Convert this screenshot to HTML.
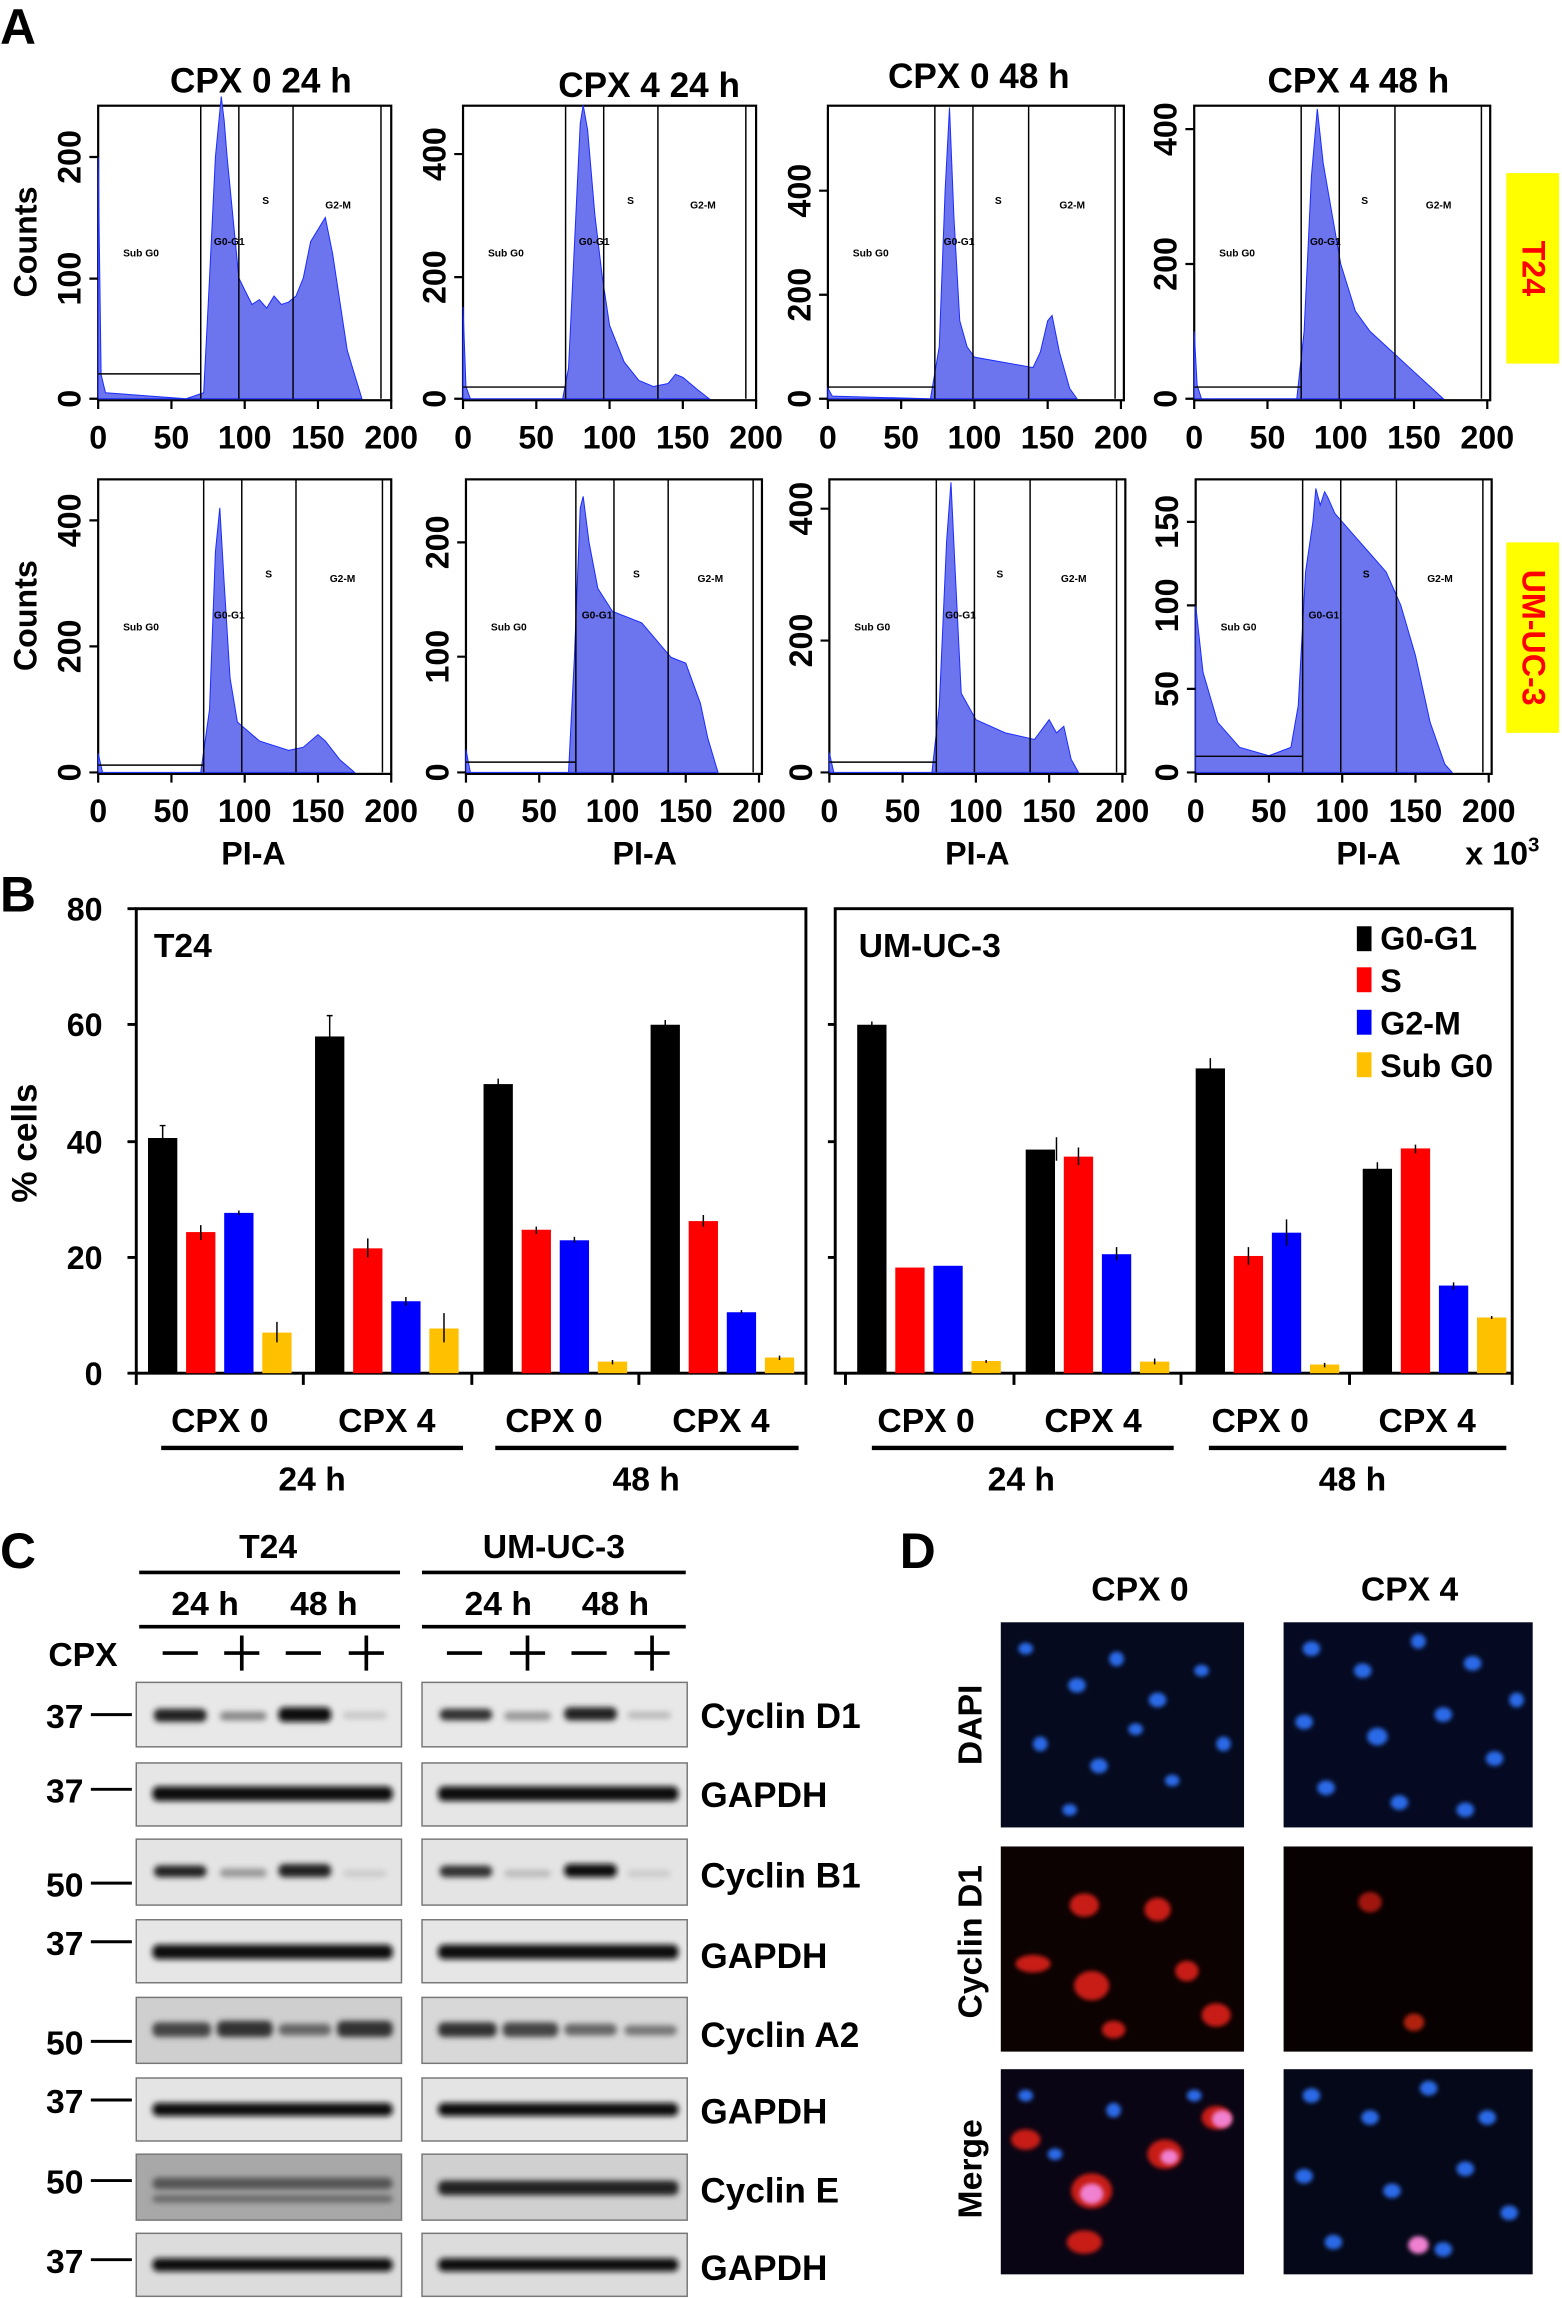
<!DOCTYPE html>
<html><head><meta charset="utf-8"><style>
html,body{margin:0;padding:0;background:#fff}
svg{display:block}
text{font-family:"Liberation Sans",Arial,sans-serif;font-weight:bold;fill:#000}
</style></head><body>
<svg width="1562" height="2298" viewBox="0 0 1066 1568" xmlns="http://www.w3.org/2000/svg">
<defs>
<filter id="bl" x="-20%" y="-50%" width="140%" height="200%"><feGaussianBlur stdDeviation="2"/></filter>
<filter id="bl2" x="-50%" y="-50%" width="200%" height="200%"><feGaussianBlur stdDeviation="1.5"/></filter>
<g id="hx">
<path d="M0 0v6M50 0v6M100 0v6M150 0v6M200 0v6" stroke="#000" stroke-width="1.5"/>
</g>
</defs>
<!-- Panel letters -->
<text x="0" y="30" font-size="34">A</text>
<text x="0" y="622" font-size="34">B</text>
<text x="0" y="1070" font-size="34">C</text>
<text x="614" y="1070" font-size="34">D</text>

<!-- Titles -->
<g font-size="24" text-anchor="middle">
<text x="178" y="63">CPX 0 24 h</text>
<text x="443" y="66">CPX 4 24 h</text>
<text x="668" y="60">CPX 0 48 h</text>
<text x="927" y="63">CPX 4 48 h</text>
</g>

<!-- Histogram plot generator outputs (static) -->
<!-- Row 1 -->
<g id="r1">
<!-- plot 1 -->
<g transform="translate(67,272)">
<rect x="0" y="-200" width="200" height="201" fill="none" stroke="#000" stroke-width="1.5"/>
<path transform="scale(1,-0.825)" vector-effect="non-scaling-stroke" d="M0 0L0 200 2 20 5 5 60 0 72 5 76 100 80 200 84 250 86 230 88 200 92 150 96 100 100 90 105 78 110 82 115 75 120 85 125 78 130 80 135 85 140 100 145 130 150 140 155 150 160 120 165 80 170 40 175 20 180 0Z" fill="#6c74ee" stroke="#1a2cff" stroke-width="1"/>
<path d="M70 -200V0M96 -200V0M133 -200V0M193 -200V0M0 -17H70" stroke="#000" stroke-width="1" fill="none"/>
<use href="#hx" y="1"/>
<g font-size="7" font-weight="normal"><text x="17" y="-97" font-weight="normal">Sub G0</text><text x="79" y="-105" font-weight="normal">G0-G1</text><text x="112" y="-133" font-weight="normal">S</text><text x="155" y="-130" font-weight="normal">G2-M</text></g>
</g>
<!-- plot 2 -->
<g transform="translate(316,272)">
<rect x="0" y="-200" width="200" height="201" fill="none" stroke="#000" stroke-width="1.5"/>
<path transform="scale(1,-0.4175)" d="M0 0L0 150 2 20 5 0 68 0 72 50 76 250 80 450 82 480 85 440 90 300 95 200 100 120 110 60 120 30 130 20 140 25 145 40 150 35 160 15 168 0Z" fill="#6c74ee" stroke="#1a2cff" stroke-width="1" vector-effect="non-scaling-stroke"/>
<path d="M70 -200V0M96 -200V0M133 -200V0M193 -200V0M0 -8H70" stroke="#000" stroke-width="1" fill="none"/>
<use href="#hx" y="1"/>
<g font-size="7"><text x="17" y="-97" font-weight="normal">Sub G0</text><text x="79" y="-105" font-weight="normal">G0-G1</text><text x="112" y="-133" font-weight="normal">S</text><text x="155" y="-130" font-weight="normal">G2-M</text></g>
</g>
<!-- plot 3 -->
<g transform="translate(565,272)">
<rect x="0" y="-200" width="202" height="201" fill="none" stroke="#000" stroke-width="1.5"/>
<path transform="scale(1,-0.355)" d="M0 0L0 20 3 5 70 0 76 100 80 400 83 560 86 350 90 150 95 100 100 80 120 70 140 60 145 90 150 150 153 160 158 90 165 20 170 0Z" fill="#6c74ee" stroke="#1a2cff" stroke-width="1" vector-effect="non-scaling-stroke"/>
<path d="M73 -200V0M99 -200V0M137 -200V0M196 -200V0M0 -8H73" stroke="#000" stroke-width="1" fill="none"/>
<use href="#hx" y="1"/>
<g font-size="7"><text x="17" y="-97" font-weight="normal">Sub G0</text><text x="79" y="-105" font-weight="normal">G0-G1</text><text x="114" y="-133" font-weight="normal">S</text><text x="158" y="-130" font-weight="normal">G2-M</text></g>
</g>
<!-- plot 4 -->
<g transform="translate(815,272)">
<rect x="0" y="-200" width="202" height="201" fill="none" stroke="#000" stroke-width="1.5"/>
<path transform="scale(1,-0.46)" d="M0 0L0 100 2 20 5 0 70 0 75 100 80 330 84 430 88 350 92 300 100 200 110 130 120 100 130 80 140 60 150 40 160 20 170 0Z" fill="#6c74ee" stroke="#1a2cff" stroke-width="1" vector-effect="non-scaling-stroke"/>
<path d="M73 -200V0M99 -200V0M137 -200V0M196 -200V0M0 -8H73" stroke="#000" stroke-width="1" fill="none"/>
<use href="#hx" y="1"/>
<g font-size="7"><text x="17" y="-97" font-weight="normal">Sub G0</text><text x="79" y="-105" font-weight="normal">G0-G1</text><text x="114" y="-133" font-weight="normal">S</text><text x="158" y="-130" font-weight="normal">G2-M</text></g>
</g>
</g>

<!-- Row 2 -->
<g transform="translate(67,527)">
<rect x="0" y="-200" width="200" height="201" fill="none" stroke="#000" stroke-width="1.5"/>
<path transform="scale(1,-0.43)" d="M0 0L0 30 3 0 70 0 76 100 80 350 83 420 86 300 90 150 95 80 110 50 130 35 140 40 150 60 155 50 165 20 175 0Z" fill="#6c74ee" stroke="#1a2cff" stroke-width="1" vector-effect="non-scaling-stroke"/>
<path d="M72 -200V0M98 -200V0M135 -200V0M194 -200V0M0 -5H72" stroke="#000" stroke-width="1" fill="none"/>
<use href="#hx" y="1"/>
<g font-size="7"><text x="17" y="-97" font-weight="normal">Sub G0</text><text x="79" y="-105" font-weight="normal">G0-G1</text><text x="114" y="-133" font-weight="normal">S</text><text x="158" y="-130" font-weight="normal">G2-M</text></g>
</g>
<g transform="translate(318,527)">
<rect x="0" y="-200" width="202" height="201" fill="none" stroke="#000" stroke-width="1.5"/>
<path transform="scale(1,-0.785)" d="M0 0L0 20 3 0 70 0 74 100 78 230 80 240 84 200 90 160 100 140 110 135 120 130 130 115 140 100 150 95 160 60 165 30 172 0Z" fill="#6c74ee" stroke="#1a2cff" stroke-width="1" vector-effect="non-scaling-stroke"/>
<path d="M75 -200V0M101 -200V0M138 -200V0M196 -200V0M0 -7H75" stroke="#000" stroke-width="1" fill="none"/>
<use href="#hx" y="1"/>
<g font-size="7"><text x="17" y="-97" font-weight="normal">Sub G0</text><text x="79" y="-105" font-weight="normal">G0-G1</text><text x="114" y="-133" font-weight="normal">S</text><text x="158" y="-130" font-weight="normal">G2-M</text></g>
</g>
<g transform="translate(566,527)">
<rect x="0" y="-200" width="202" height="201" fill="none" stroke="#000" stroke-width="1.5"/>
<path transform="scale(1,-0.45)" d="M0 0L0 30 3 0 70 0 75 100 80 350 83 440 86 300 90 120 100 80 120 60 140 50 150 80 155 60 160 70 165 20 170 0Z" fill="#6c74ee" stroke="#1a2cff" stroke-width="1" vector-effect="non-scaling-stroke"/>
<path d="M73 -200V0M99 -200V0M137 -200V0M196 -200V0M0 -7H73" stroke="#000" stroke-width="1" fill="none"/>
<use href="#hx" y="1"/>
<g font-size="7"><text x="17" y="-97" font-weight="normal">Sub G0</text><text x="79" y="-105" font-weight="normal">G0-G1</text><text x="114" y="-133" font-weight="normal">S</text><text x="158" y="-130" font-weight="normal">G2-M</text></g>
</g>
<g transform="translate(816,527)">
<rect x="0" y="-200" width="202" height="201" fill="none" stroke="#000" stroke-width="1.5"/>
<path transform="scale(1,-1.14)" d="M0 0L0 100 5 60 15 30 30 15 50 10 65 15 70 40 75 120 80 150 82 170 85 160 88 168 90 165 95 155 100 150 110 140 120 130 130 120 140 100 150 70 160 30 170 5 175 0Z" fill="#6c74ee" stroke="#1a2cff" stroke-width="1" vector-effect="non-scaling-stroke"/>
<path d="M73 -200V0M99 -200V0M137 -200V0M196 -200V0M0 -11H73" stroke="#000" stroke-width="1" fill="none"/>
<use href="#hx" y="1"/>
<g font-size="7"><text x="17" y="-97" font-weight="normal">Sub G0</text><text x="77" y="-105" font-weight="normal">G0-G1</text><text x="114" y="-133" font-weight="normal">S</text><text x="158" y="-130" font-weight="normal">G2-M</text></g>
</g>

<!-- y ticks for histograms -->
<g stroke="#000" stroke-width="1.5">
<path d="M61 272H67M61 190H67M61 107H67M310 272H316M310 189H316M310 105H316M559 272H565M559 201H565M559 130H565M809 272H815M809 180H815M809 88H815"/>
<path d="M61 527H67M61 441H67M61 355H67M312 527H318M312 448H318M312 370H318M560 527H566M560 437H566M560 347H566M810 527H816M810 470H816M810 413H816M810 356H816"/>
</g>
<!-- y tick labels (rotated) -->
<g font-size="22" text-anchor="middle">
<text transform="translate(55,272) rotate(-90)">0</text>
<text transform="translate(55,190) rotate(-90)">100</text>
<text transform="translate(55,107) rotate(-90)">200</text>
<text transform="translate(304,272) rotate(-90)">0</text>
<text transform="translate(304,189) rotate(-90)">200</text>
<text transform="translate(304,105) rotate(-90)">400</text>
<text transform="translate(553,272) rotate(-90)">0</text>
<text transform="translate(553,201) rotate(-90)">200</text>
<text transform="translate(553,130) rotate(-90)">400</text>
<text transform="translate(803,272) rotate(-90)">0</text>
<text transform="translate(803,180) rotate(-90)">200</text>
<text transform="translate(803,88) rotate(-90)">400</text>
<text transform="translate(55,527) rotate(-90)">0</text>
<text transform="translate(55,441) rotate(-90)">200</text>
<text transform="translate(55,355) rotate(-90)">400</text>
<text transform="translate(306,527) rotate(-90)">0</text>
<text transform="translate(306,448) rotate(-90)">100</text>
<text transform="translate(306,370) rotate(-90)">200</text>
<text transform="translate(554,527) rotate(-90)">0</text>
<text transform="translate(554,437) rotate(-90)">200</text>
<text transform="translate(554,347) rotate(-90)">400</text>
<text transform="translate(804,527) rotate(-90)">0</text>
<text transform="translate(804,470) rotate(-90)">50</text>
<text transform="translate(804,413) rotate(-90)">100</text>
<text transform="translate(804,356) rotate(-90)">150</text>
<text transform="translate(25,165) rotate(-90)">Counts</text>
<text transform="translate(25,420) rotate(-90)">Counts</text>
</g>
<!-- x tick labels -->
<g font-size="22" text-anchor="middle">
<g transform="translate(67,306)"><text x="0">0</text><text x="50">50</text><text x="100">100</text><text x="150">150</text><text x="200">200</text></g>
<g transform="translate(316,306)"><text x="0">0</text><text x="50">50</text><text x="100">100</text><text x="150">150</text><text x="200">200</text></g>
<g transform="translate(565,306)"><text x="0">0</text><text x="50">50</text><text x="100">100</text><text x="150">150</text><text x="200">200</text></g>
<g transform="translate(815,306)"><text x="0">0</text><text x="50">50</text><text x="100">100</text><text x="150">150</text><text x="200">200</text></g>
<g transform="translate(67,561)"><text x="0">0</text><text x="50">50</text><text x="100">100</text><text x="150">150</text><text x="200">200</text></g>
<g transform="translate(318,561)"><text x="0">0</text><text x="50">50</text><text x="100">100</text><text x="150">150</text><text x="200">200</text></g>
<g transform="translate(566,561)"><text x="0">0</text><text x="50">50</text><text x="100">100</text><text x="150">150</text><text x="200">200</text></g>
<g transform="translate(816,561)"><text x="0">0</text><text x="50">50</text><text x="100">100</text><text x="150">150</text><text x="200">200</text></g>
<text x="173" y="590">PI-A</text><text x="440" y="590">PI-A</text><text x="667" y="590">PI-A</text><text x="934" y="590">PI-A</text>
</g>
<text x="1000" y="590" font-size="22">x 10<tspan font-size="14" dy="-9">3</tspan></text>

<!-- Yellow labels -->
<rect x="1028" y="118" width="36" height="130" fill="#ffff00"/>
<text transform="translate(1039,183) rotate(90)" font-size="22" text-anchor="middle" style="fill:#ff0000">T24</text>
<rect x="1028" y="370" width="36" height="130" fill="#ffff00"/>
<text transform="translate(1039,435) rotate(90)" font-size="22" text-anchor="middle" style="fill:#ff0000">UM-UC-3</text>

<!-- Panel B -->
<g stroke="#000" fill="none">
<rect x="93" y="620" width="457" height="317" stroke-width="2"/>
<rect x="570" y="620" width="462" height="317" stroke-width="2"/>
<path d="M87 620H93M87 699H93M87 779H93M87 858H93M87 937H93M565 699H570M565 779H570M565 858H570" stroke-width="2"/>
<path d="M93 937v8M207 937v8M322 937v8M436 937v8M550 937v8M577 937v8M692 937v8M806 937v8M921 937v8M1032 937v8" stroke-width="2"/>
</g>
<g font-size="22" text-anchor="end">
<text x="70" y="628">80</text><text x="70" y="707">60</text><text x="70" y="787">40</text><text x="70" y="866">20</text><text x="70" y="945">0</text>
</g>
<text transform="translate(25,780) rotate(-90)" font-size="24" text-anchor="middle">% cells</text>
<text x="105" y="653" font-size="23">T24</text>
<text x="586" y="653" font-size="23">UM-UC-3</text>
<!-- bars: y = 937 - v*3.9625 -->
<g>
<!-- T24 group1 -->
<rect x="101" y="776.5" width="20" height="160.5" fill="#000"/>
<rect x="127" y="840.7" width="20" height="96.3" fill="#ff0000"/>
<rect x="153" y="827.6" width="20" height="109.4" fill="#0000ff"/>
<rect x="179" y="909.3" width="20" height="27.7" fill="#ffc000"/>
<!-- group2 -->
<rect x="215" y="707.2" width="20" height="229.8" fill="#000"/>
<rect x="241" y="851.8" width="20" height="85.2" fill="#ff0000"/>
<rect x="267" y="887.9" width="20" height="49.1" fill="#0000ff"/>
<rect x="293" y="906.5" width="20" height="30.5" fill="#ffc000"/>
<!-- group3 -->
<rect x="330" y="739.7" width="20" height="197.3" fill="#000"/>
<rect x="356" y="839.1" width="20" height="97.9" fill="#ff0000"/>
<rect x="382" y="846.3" width="20" height="90.7" fill="#0000ff"/>
<rect x="408" y="929.1" width="20" height="7.9" fill="#ffc000"/>
<!-- group4 -->
<rect x="444" y="699.2" width="20" height="237.8" fill="#000"/>
<rect x="470" y="833.2" width="20" height="103.8" fill="#ff0000"/>
<rect x="496" y="895.4" width="20" height="41.6" fill="#0000ff"/>
<rect x="522" y="926.3" width="20" height="10.7" fill="#ffc000"/>
<!-- UM group1 -->
<rect x="585" y="699.2" width="20" height="237.8" fill="#000"/>
<rect x="611" y="864.9" width="20" height="72.1" fill="#ff0000"/>
<rect x="637" y="863.7" width="20" height="73.3" fill="#0000ff"/>
<rect x="663" y="928.7" width="20" height="8.3" fill="#ffc000"/>
<!-- UM group2 -->
<rect x="700" y="784.4" width="20" height="152.6" fill="#000"/>
<rect x="726" y="789.2" width="20" height="147.8" fill="#ff0000"/>
<rect x="752" y="855.8" width="20" height="81.2" fill="#0000ff"/>
<rect x="778" y="929.1" width="20" height="7.9" fill="#ffc000"/>
<!-- UM group3 -->
<rect x="816" y="729" width="20" height="208" fill="#000"/>
<rect x="842" y="857" width="20" height="80" fill="#ff0000"/>
<rect x="868" y="841.1" width="20" height="95.9" fill="#0000ff"/>
<rect x="894" y="931.1" width="20" height="5.9" fill="#ffc000"/>
<!-- UM group4 -->
<rect x="930" y="797.5" width="20" height="139.5" fill="#000"/>
<rect x="956" y="783.6" width="20" height="153.4" fill="#ff0000"/>
<rect x="982" y="877.2" width="20" height="59.8" fill="#0000ff"/>
<rect x="1008" y="899" width="20" height="38" fill="#ffc000"/>
</g>
<!-- error bars -->
<g stroke="#000" stroke-width="1">
<path d="M111 768v16M109 768h4M137 836v10M153 0"/>
<path d="M225 693v28M223 693h4M251 845v13M277 885v6M303 896v20M340 736v6M366 837v5M392 844v4M454 696v6M480 829v8M506 894v2"/>
<path d="M595 697v3M721 776v16M736 783v12M762 851v9M826 722v14M852 851v12M878 832v18M940 793v9M966 781v6M992 875v5M1018 898v2"/>
<path d="M189 902v14M137 836v10M163 826v3M418 928v3M532 925v3M673 928v2M788 927v4M904 930v3"/>
</g>
<!-- legend -->
<rect x="926" y="632" width="10" height="17" fill="#000"/>
<rect x="926" y="660" width="10" height="17" fill="#ff0000"/>
<rect x="926" y="689" width="10" height="17" fill="#0000ff"/>
<rect x="926" y="718" width="10" height="17" fill="#ffc000"/>
<g font-size="22"><text x="942" y="648">G0-G1</text><text x="942" y="677">S</text><text x="942" y="706">G2-M</text><text x="942" y="735">Sub G0</text></g>
<!-- B x labels -->
<g font-size="23" text-anchor="middle">
<text x="150" y="977">CPX 0</text><text x="264" y="977">CPX 4</text><text x="378" y="977">CPX 0</text><text x="492" y="977">CPX 4</text>
<text x="632" y="977">CPX 0</text><text x="746" y="977">CPX 4</text><text x="860" y="977">CPX 0</text><text x="974" y="977">CPX 4</text>
<text x="213" y="1017">24 h</text><text x="441" y="1017">48 h</text><text x="697" y="1017">24 h</text><text x="923" y="1017">48 h</text>
</g>
<g stroke="#000" stroke-width="3"><path d="M110 988H316M338 988H545M595 988H801M825 988H1028"/></g>

<!-- Panel C header -->
<g font-size="23" text-anchor="middle">
<text x="183" y="1063">T24</text><text x="378" y="1063">UM-UC-3</text>
<text x="140" y="1102">24 h</text><text x="221" y="1102">48 h</text><text x="340" y="1102">24 h</text><text x="420" y="1102">48 h</text>
</g>
<text x="33" y="1137" font-size="23">CPX</text>
<g stroke="#000" stroke-width="2.5">
<path d="M95 1073H273M288 1073H468M95 1110H273M288 1110H468"/>
<path d="M111 1128h24M195 1128h24M305 1128h24M390 1128h24"/>
<path d="M153 1128h24M165 1116v24M238 1128h24M250 1116v24M348 1128h24M360 1116v24M433 1128h24M445 1116v24"/>
</g>
<!-- blots -->
<g>
<g id="blots">
<rect x="93" y="1148" width="181" height="44" fill="#e8e8e8" stroke="#777"/>
<rect x="288" y="1148" width="181" height="44" fill="#e8e8e8" stroke="#777"/>
<rect x="93" y="1203" width="181" height="43" fill="#e6e6e6" stroke="#777"/>
<rect x="288" y="1203" width="181" height="43" fill="#e6e6e6" stroke="#777"/>
<rect x="93" y="1255" width="181" height="45" fill="#e4e4e4" stroke="#777"/>
<rect x="288" y="1255" width="181" height="45" fill="#e4e4e4" stroke="#777"/>
<rect x="93" y="1310" width="181" height="43" fill="#e6e6e6" stroke="#777"/>
<rect x="288" y="1310" width="181" height="43" fill="#e6e6e6" stroke="#777"/>
<rect x="93" y="1363" width="181" height="45" fill="#cfcfcf" stroke="#777"/>
<rect x="288" y="1363" width="181" height="45" fill="#d8d8d8" stroke="#777"/>
<rect x="93" y="1418" width="181" height="43" fill="#e4e4e4" stroke="#777"/>
<rect x="288" y="1418" width="181" height="43" fill="#e4e4e4" stroke="#777"/>
<rect x="93" y="1470" width="181" height="45" fill="#a8a8a8" stroke="#777"/>
<rect x="288" y="1470" width="181" height="45" fill="#d0d0d0" stroke="#777"/>
<rect x="93" y="1524" width="181" height="43" fill="#dcdcdc" stroke="#777"/>
<rect x="288" y="1524" width="181" height="43" fill="#dcdcdc" stroke="#777"/>
</g>
<g filter="url(#bl)">
<!-- Cyclin D1 -->
<rect x="105" y="1166" width="36" height="9" rx="4" fill="#222"/><rect x="150" y="1168" width="32" height="6" rx="3" fill="#888"/><rect x="190" y="1165" width="36" height="10" rx="4" fill="#111"/><rect x="234" y="1168" width="30" height="5" rx="3" fill="#c8c8c8"/>
<rect x="300" y="1166" width="36" height="8" rx="4" fill="#333"/><rect x="344" y="1168" width="32" height="6" rx="3" fill="#999"/><rect x="385" y="1165" width="36" height="9" rx="4" fill="#222"/><rect x="428" y="1168" width="30" height="5" rx="3" fill="#bbb"/>
<!-- GAPDH -->
<rect x="104" y="1219" width="164" height="10" rx="4" fill="#111"/><rect x="299" y="1219" width="164" height="10" rx="4" fill="#111"/>
<!-- Cyclin B1 -->
<rect x="105" y="1273" width="36" height="8" rx="4" fill="#222"/><rect x="150" y="1275" width="32" height="6" rx="3" fill="#999"/><rect x="190" y="1272" width="36" height="9" rx="4" fill="#222"/><rect x="234" y="1276" width="30" height="5" rx="3" fill="#ccc"/>
<rect x="300" y="1273" width="36" height="8" rx="4" fill="#333"/><rect x="344" y="1276" width="32" height="5" rx="3" fill="#bbb"/><rect x="385" y="1272" width="36" height="9" rx="4" fill="#111"/><rect x="428" y="1276" width="30" height="5" rx="3" fill="#ccc"/>
<!-- GAPDH -->
<rect x="104" y="1327" width="164" height="10" rx="4" fill="#111"/><rect x="299" y="1327" width="164" height="10" rx="4" fill="#111"/>
<!-- Cyclin A2 -->
<rect x="104" y="1380" width="40" height="10" rx="4" fill="#444"/><rect x="148" y="1379" width="38" height="11" rx="4" fill="#333"/><rect x="190" y="1381" width="36" height="8" rx="4" fill="#666"/><rect x="230" y="1379" width="38" height="11" rx="4" fill="#333"/>
<rect x="299" y="1380" width="40" height="10" rx="4" fill="#333"/><rect x="343" y="1380" width="38" height="10" rx="4" fill="#444"/><rect x="385" y="1381" width="36" height="8" rx="4" fill="#666"/><rect x="426" y="1382" width="36" height="7" rx="4" fill="#777"/>
<!-- GAPDH -->
<rect x="104" y="1435" width="164" height="9" rx="4" fill="#111"/><rect x="299" y="1435" width="164" height="9" rx="4" fill="#111"/>
<!-- Cyclin E -->
<rect x="104" y="1486" width="164" height="8" rx="4" fill="#555"/><rect x="104" y="1498" width="164" height="5" rx="3" fill="#666"/>
<rect x="299" y="1488" width="164" height="10" rx="4" fill="#222"/>
<!-- GAPDH -->
<rect x="104" y="1541" width="164" height="9" rx="4" fill="#111"/><rect x="299" y="1541" width="164" height="9" rx="4" fill="#111"/>
</g>
</g>
<!-- markers -->
<g font-size="23" text-anchor="end">
<text x="57" y="1179">37</text><text x="57" y="1230">37</text><text x="57" y="1294">50</text><text x="57" y="1334">37</text><text x="57" y="1402">50</text><text x="57" y="1442">37</text><text x="57" y="1497">50</text><text x="57" y="1551">37</text>
</g>
<g stroke="#000" stroke-width="2"><path d="M62 1170H90M62 1221H90M62 1285H90M62 1325H90M62 1393H90M62 1433H90M62 1488H90M62 1542H90"/></g>
<g font-size="24">
<text x="478" y="1179">Cyclin D1</text><text x="478" y="1233">GAPDH</text><text x="478" y="1288">Cyclin B1</text><text x="478" y="1343">GAPDH</text><text x="478" y="1397">Cyclin A2</text><text x="478" y="1449">GAPDH</text><text x="478" y="1503">Cyclin E</text><text x="478" y="1556">GAPDH</text>
</g>

<!-- Panel D -->
<g font-size="23" text-anchor="middle">
<text x="778" y="1092">CPX 0</text><text x="962" y="1092">CPX 4</text>
<text transform="translate(670,1177) rotate(-90)">DAPI</text>
<text transform="translate(670,1325) rotate(-90)">Cyclin D1</text>
<text transform="translate(670,1480) rotate(-90)">Merge</text>
</g>
<rect x="683" y="1107" width="166" height="140" fill="#050a1e"/>
<rect x="876" y="1107" width="170" height="140" fill="#050a22"/>
<rect x="683" y="1260" width="166" height="140" fill="#0c0202"/>
<rect x="876" y="1260" width="170" height="140" fill="#070101"/>
<rect x="683" y="1412" width="166" height="140" fill="#0a0514"/>
<rect x="876" y="1412" width="170" height="140" fill="#050818"/>
<g fill="#2a6ae8" filter="url(#bl2)">
<ellipse cx="700" cy="1125" rx="5" ry="4"/><ellipse cx="735" cy="1150" rx="6" ry="5"/><ellipse cx="762" cy="1132" rx="5" ry="5"/><ellipse cx="790" cy="1160" rx="6" ry="5"/><ellipse cx="820" cy="1140" rx="5" ry="4"/><ellipse cx="710" cy="1190" rx="5" ry="5"/><ellipse cx="750" cy="1205" rx="6" ry="5"/><ellipse cx="800" cy="1215" rx="5" ry="4"/><ellipse cx="835" cy="1190" rx="5" ry="5"/><ellipse cx="730" cy="1235" rx="5" ry="4"/><ellipse cx="775" cy="1180" rx="5" ry="4"/>
<ellipse cx="895" cy="1125" rx="6" ry="5"/><ellipse cx="930" cy="1140" rx="6" ry="5"/><ellipse cx="968" cy="1120" rx="5" ry="5"/><ellipse cx="1005" cy="1135" rx="6" ry="5"/><ellipse cx="1035" cy="1160" rx="5" ry="5"/><ellipse cx="890" cy="1175" rx="6" ry="5"/><ellipse cx="940" cy="1185" rx="7" ry="6"/><ellipse cx="985" cy="1170" rx="6" ry="5"/><ellipse cx="1020" cy="1200" rx="6" ry="5"/><ellipse cx="905" cy="1220" rx="6" ry="5"/><ellipse cx="955" cy="1230" rx="6" ry="5"/><ellipse cx="1000" cy="1235" rx="6" ry="5"/>
<ellipse cx="700" cy="1430" rx="5" ry="4"/><ellipse cx="760" cy="1440" rx="5" ry="5"/><ellipse cx="815" cy="1430" rx="5" ry="4"/><ellipse cx="720" cy="1470" rx="5" ry="4"/>
<ellipse cx="895" cy="1430" rx="6" ry="5"/><ellipse cx="935" cy="1445" rx="6" ry="5"/><ellipse cx="975" cy="1425" rx="6" ry="5"/><ellipse cx="1015" cy="1445" rx="6" ry="5"/><ellipse cx="890" cy="1485" rx="6" ry="5"/><ellipse cx="950" cy="1495" rx="6" ry="5"/><ellipse cx="1000" cy="1480" rx="6" ry="5"/><ellipse cx="1030" cy="1510" rx="6" ry="5"/><ellipse cx="910" cy="1530" rx="6" ry="5"/><ellipse cx="985" cy="1535" rx="6" ry="5"/>
</g>
<g fill="#c81a14" filter="url(#bl2)">
<ellipse cx="740" cy="1300" rx="10" ry="8"/><ellipse cx="790" cy="1303" rx="9" ry="8"/><ellipse cx="705" cy="1340" rx="12" ry="6"/><ellipse cx="745" cy="1355" rx="12" ry="10"/><ellipse cx="810" cy="1345" rx="8" ry="7"/><ellipse cx="830" cy="1375" rx="10" ry="8"/><ellipse cx="760" cy="1385" rx="8" ry="6"/>
<ellipse cx="935" cy="1298" rx="8" ry="7" fill="#a01810"/><ellipse cx="965" cy="1380" rx="7" ry="6" fill="#b02010"/>
<ellipse cx="700" cy="1460" rx="10" ry="7"/><ellipse cx="745" cy="1495" rx="14" ry="12"/><ellipse cx="795" cy="1470" rx="12" ry="10"/><ellipse cx="830" cy="1445" rx="10" ry="8"/><ellipse cx="740" cy="1530" rx="12" ry="8"/>
</g>
<g fill="#f080d0" filter="url(#bl2)">
<ellipse cx="745" cy="1497" rx="8" ry="7"/><ellipse cx="834" cy="1446" rx="7" ry="6"/><ellipse cx="798" cy="1472" rx="6" ry="5"/><ellipse cx="968" cy="1532" rx="7" ry="6"/>
</g>
</svg>
</body></html>
